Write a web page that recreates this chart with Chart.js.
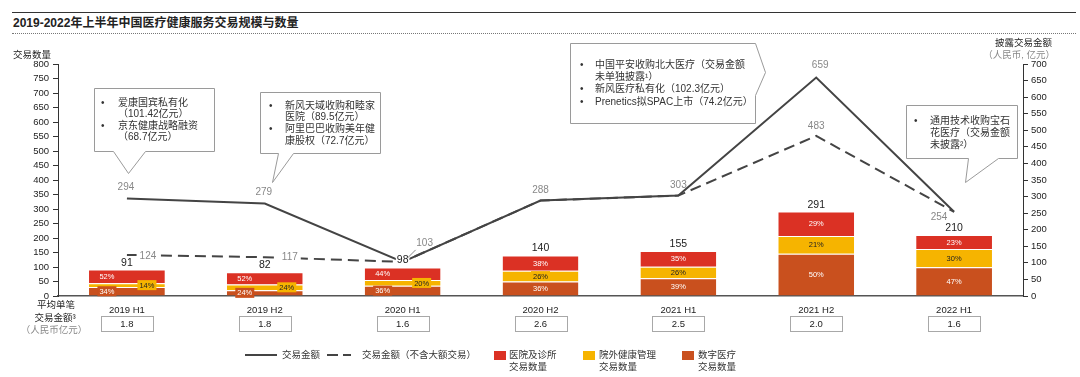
<!DOCTYPE html>
<html lang="zh">
<head>
<meta charset="utf-8">
<title>2019-2022年上半年中国医疗健康服务交易规模与数量</title>
<script src="https://cdn.jsdelivr.net/npm/chart.js@4.4.1/dist/chart.umd.min.js"></script>
<style>
  html, body { margin: 0; padding: 0; background: #fff; }
  body { width: 1080px; height: 377px; overflow: hidden; position: relative;
         font-family: "Liberation Sans", "Noto Sans CJK SC", sans-serif; color: #222; }
  #chart { position: absolute; left: 0; top: 0; }
  .title { position: absolute; left: 12px; top: 12px; width: 1063px; height: 20px;
           border-top: 1.5px solid #333; border-bottom: 1px dotted #777;
           font-size: 12px; font-weight: bold; line-height: 20px; padding-left: 1px; }
  .lg { position: absolute; font-size: 9.5px; line-height: 12px; color: #333; white-space: nowrap; }
  .sw { position: absolute; width: 12px; height: 9px; }
  .ln { position: absolute; height: 0; border-top: 2px solid #444; }
</style>
</head>
<body>
<div class="title">2019-2022年上半年中国医疗健康服务交易规模与数量</div>
<canvas id="chart" width="1080" height="377"></canvas>

<!-- 图例 -->
<div class="ln" style="left:245px;top:354px;width:32px"></div>
<div class="lg" style="left:282px;top:349px">交易金额</div>
<div class="ln" style="left:327px;top:354px;width:11px"></div>
<div class="ln" style="left:343px;top:354px;width:8px"></div>
<div class="lg" style="left:362px;top:349px">交易金额（不含大额交易）</div>
<div class="sw" style="left:494px;top:351px;background:#db3124"></div>
<div class="lg" style="left:509px;top:349px">医院及诊所<br>交易数量</div>
<div class="sw" style="left:583px;top:351px;background:#f6b400"></div>
<div class="lg" style="left:599px;top:349px">院外健康管理<br>交易数量</div>
<div class="sw" style="left:682px;top:351px;background:#c9501e"></div>
<div class="lg" style="left:698px;top:349px">数字医疗<br>交易数量</div>

<script>
// ---- 数据 ----
const categories = ['2019 H1', '2019 H2', '2020 H1', '2020 H2', '2021 H1', '2021 H2', '2022 H1'];
// 交易数量（笔）
const dealTotals      = [91, 82, 98, 140, 155, 291, 210];
const digitalDeals    = [31, 20, 35, 50, 61, 146, 99];   // 数字医疗
const outpatientDeals = [13, 20, 20, 37, 40, 61, 63];    // 院外健康管理
const hospitalDeals   = [47, 42, 43, 53, 54, 84, 48];    // 医院及诊所
const digitalPct      = [34, 24, 36, 36, 39, 50, 47];
const outpatientPct   = [14, 24, 20, 26, 26, 21, 30];
const hospitalPct     = [52, 52, 44, 38, 35, 29, 23];
// 披露交易金额（人民币亿元）
const dealValue        = [294, 279, 103, 288, 303, 659, 254];
const dealValueExLarge = [124, 117, 103, 288, 303, 483, 254];
// 平均单笔交易金额
const avgDealSize = ['1.8', '1.8', '1.6', '2.6', '2.5', '2.0', '1.6'];
const leftTicks = { min: 0, max: 800, step: 50 };
const rightTicks = { min: 0, max: 700, step: 50 };

// ---- 样式 ----
const colors = {
    hospital: '#db3124',
    outpatient: '#f6b400',
    digital: '#c9501e',
    line: '#444444',
    axis: '#333333',
    text: '#222222',
    grey: '#888888'
};
const fontStack = '"Liberation Sans", "Noto Sans CJK SC", sans-serif';
const font = (size, weight) => `${weight || 'normal'} ${size}px ${fontStack}`;

// 注释框（气泡）
const callouts = [
    { shape: [[94,88],[214,88],[214,151],[145,151],[128,173],[113,151],[94,151]],
      bulletX: 103, textX: 118,
      lines: [['爱康国宾私有化', 103, true], ['（101.42亿元）', 114], ['京东健康战略融资', 126, true], ['（68.7亿元）', 137]] },
    { shape: [[260,92],[380,92],[380,153],[293,153],[272,182],[278,153],[260,153]],
      bulletX: 271, textX: 285,
      lines: [['新风天域收购和睦家', 106, true], ['医院（89.5亿元）', 117], ['阿里巴巴收购美年健', 129, true], ['康股权（72.7亿元）', 141]] },
    { shape: [[570,43],[755,43],[765,72],[755,95],[755,123],[570,123]],
      bulletX: 582, textX: 595,
      lines: [['中国平安收购北大医疗（交易金额', 65, true], ['未单独披露¹）', 77], ['新风医疗私有化（102.3亿元）', 89, true], ['Prenetics拟SPAC上市（74.2亿元）', 102, true]] },
    { shape: [[906,105],[1017,105],[1017,158],[998,158],[965,182],[968,158],[906,158]],
      bulletX: 916, textX: 930,
      lines: [['通用技术收购宝石', 121, true], ['花医疗（交易金额', 133], ['未披露²）', 145]] }
];

// 折线数值标签位置偏移 [dx, dy]，null 表示不显示
const lineLabelOffsets = {
    3: [[-1,-11],[-1,-11],[22,-19],[0,-10],[0,-10],[4,-12],[-15,5]],
    4: [[21,1],[25,0],null,null,null,[0,-10],null]
};
// 小段百分比标签的水平偏移（数字医疗, 院外健康管理, 医院及诊所）
const pctShift = { 0: [-20, 20, -20], 1: [-20, 22, -20], 2: [-20, 19, -20] };

const overlayPlugin = {
    id: 'overlay',
    afterDatasetsDraw(chart) {
        const ctx = chart.ctx;
        const area = chart.chartArea;
        const xs = chart.scales.x;
        ctx.save();
        ctx.textAlign = 'center';
        ctx.textBaseline = 'middle';

        // 百分比标签
        const pctSets = [digitalPct, outpatientPct, hospitalPct];
        const segColors = [colors.digital, colors.outpatient, colors.hospital];
        ctx.font = font(7.5);
        for (let d = 0; d < 3; d++) {
            chart.getDatasetMeta(d).data.forEach((bar, i) => {
                const txt = pctSets[d][i] + '%';
                const h = Math.abs(bar.base - bar.y);
                const dx = pctShift[i] ? pctShift[i][d] : 0;
                const cx = bar.x + dx;
                const cy = (bar.y + bar.base) / 2;
                if (h < 11) {
                    const w = ctx.measureText(txt).width + 4;
                    ctx.fillStyle = segColors[d];
                    ctx.fillRect(cx - w / 2, cy - 5, w, 10);
                }
                ctx.fillStyle = d === 1 ? '#222' : '#fff';
                ctx.fillText(txt, cx, cy + 0.5);
            });
        }

        // 柱顶交易数量
        ctx.font = font(10.5);
        chart.getDatasetMeta(2).data.forEach((bar, i) => {
            const t = String(dealTotals[i]);
            const w = ctx.measureText(t).width + 2;
            ctx.fillStyle = '#fff';
            ctx.fillRect(bar.x - w / 2, bar.y - 13, w, 12);
            ctx.fillStyle = colors.text;
            ctx.fillText(t, bar.x, bar.y - 7);
        });

        // 折线数值
        ctx.font = font(10);
        [3, 4].forEach(di => {
            const vals = di === 3 ? dealValue : dealValueExLarge;
            chart.getDatasetMeta(di).data.forEach((pt, i) => {
                const off = lineLabelOffsets[di][i];
                if (!off) return;
                const tx = pt.x + off[0], ty = pt.y + off[1];
                if (di === 4) {
                    const w = ctx.measureText(String(vals[i])).width + 6;
                    ctx.fillStyle = '#fff';
                    ctx.fillRect(tx - w / 2, ty - 6, w, 12);
                }
                ctx.fillStyle = colors.grey;
                ctx.fillText(String(vals[i]), tx, ty);
                if (di === 3 && i === 2) {
                    ctx.strokeStyle = colors.grey;
                    ctx.lineWidth = 1;
                    ctx.beginPath();
                    ctx.moveTo(pt.x + 5, pt.y - 4);
                    ctx.lineTo(pt.x + 13, pt.y - 12);
                    ctx.stroke();
                }
            });
        });

        // 注释框
        callouts.forEach(c => {
            ctx.beginPath();
            c.shape.forEach((p, k) => k ? ctx.lineTo(p[0] + 0.5, p[1] + 0.5) : ctx.moveTo(p[0] + 0.5, p[1] + 0.5));
            ctx.closePath();
            ctx.fillStyle = '#fff';
            ctx.fill();
            ctx.strokeStyle = '#9a9a9a';
            ctx.lineWidth = 1;
            ctx.stroke();
            ctx.font = font(10);
            ctx.fillStyle = '#333';
            ctx.textAlign = 'left';
            c.lines.forEach(([t, y, bullet]) => {
                if (bullet) ctx.fillText('•', c.bulletX - 2, y);
                ctx.fillText(t, c.textX, y);
            });
            ctx.textAlign = 'center';
        });

        // 轴标题
        ctx.font = font(9.5);
        ctx.fillStyle = colors.text;
        ctx.textAlign = 'left';
        ctx.fillText('交易数量', 13, 55);
        ctx.textAlign = 'right';
        ctx.fillText('披露交易金额', 1052, 43);
        ctx.fillStyle = colors.grey;
        ctx.fillText('（人民币, 亿元）', 1055, 55);

        // 平均单笔交易金额
        ctx.textAlign = 'center';
        ctx.fillStyle = colors.text;
        ctx.fillText('平均单笔', 56, 305);
        ctx.fillText('交易金额³', 55, 318);
        ctx.fillStyle = colors.grey;
        ctx.fillText('（人民币亿元）', 54, 330);
        ctx.font = font(9.5);
        categories.forEach((c, i) => {
            const x = xs.getPixelForValue(i);
            ctx.strokeStyle = '#a8a8a8';
            ctx.lineWidth = 1;
            ctx.strokeRect(Math.round(x - 26) + 0.5, area.bottom + 20.5, 52, 15);
            ctx.fillStyle = colors.text;
            ctx.fillText(avgDealSize[i], x, area.bottom + 28.5);
        });
        ctx.restore();
    }
};

const ctx = document.getElementById('chart').getContext('2d');
new Chart(ctx, {
    type: 'bar',
    data: {
        labels: categories,
        datasets: [
            { label: '数字医疗交易数量', data: digitalDeals, backgroundColor: colors.digital, order: 1 },
            { label: '院外健康管理交易数量', data: outpatientDeals, backgroundColor: colors.outpatient, order: 1 },
            { label: '医院及诊所交易数量', data: hospitalDeals, backgroundColor: colors.hospital, order: 1 },
            { type: 'line', label: '交易金额', data: dealValue, yAxisID: 'y1', borderColor: colors.line,
              borderWidth: 2, pointRadius: 0, tension: 0, order: 0 },
            { type: 'line', label: '交易金额（不含大额交易）', data: dealValueExLarge, yAxisID: 'y1', borderColor: colors.line,
              borderWidth: 2, borderDash: [11, 6], pointRadius: 0, tension: 0, order: 0 }
        ].map(ds => ds.type ? ds : Object.assign(ds, {
            barPercentage: 0.55, categoryPercentage: 1,
            borderColor: '#fff', borderWidth: { top: 1, left: 0, right: 0, bottom: 0 }, borderSkipped: false
        }))
    },
    options: {
        responsive: false,
        devicePixelRatio: 1,
        animation: false,
        layout: { padding: { top: 64, left: 0, right: 0, bottom: 0 } },
        plugins: { legend: { display: false }, tooltip: { enabled: false } },
        scales: {
            x: {
                stacked: true,
                grid: { display: false, drawTicks: false },
                border: { display: true, color: '#555', width: 1.5 },
                ticks: { color: colors.text, font: { family: fontStack, size: 9.5 }, padding: 9 },
                afterFit: s => { s.height = 81; }
            },
            y: {
                stacked: true,
                position: 'left',
                min: leftTicks.min, max: leftTicks.max,
                grid: { drawOnChartArea: false, drawTicks: true, tickLength: 5, color: colors.axis },
                border: { display: true, color: colors.axis, width: 1 },
                ticks: { stepSize: leftTicks.step, color: colors.text, font: { family: fontStack, size: 9.5 }, padding: 4 },
                afterFit: s => { s.width = 58; }
            },
            y1: {
                position: 'right',
                min: rightTicks.min, max: rightTicks.max,
                grid: { drawOnChartArea: false, drawTicks: true, tickLength: 5, color: colors.axis },
                border: { display: true, color: colors.axis, width: 1 },
                ticks: { stepSize: rightTicks.step, color: colors.text, font: { family: fontStack, size: 9.5 }, padding: 3 },
                afterFit: s => { s.width = 57; }
            }
        }
    },
    plugins: [overlayPlugin]
});
</script>
</body>
</html>
